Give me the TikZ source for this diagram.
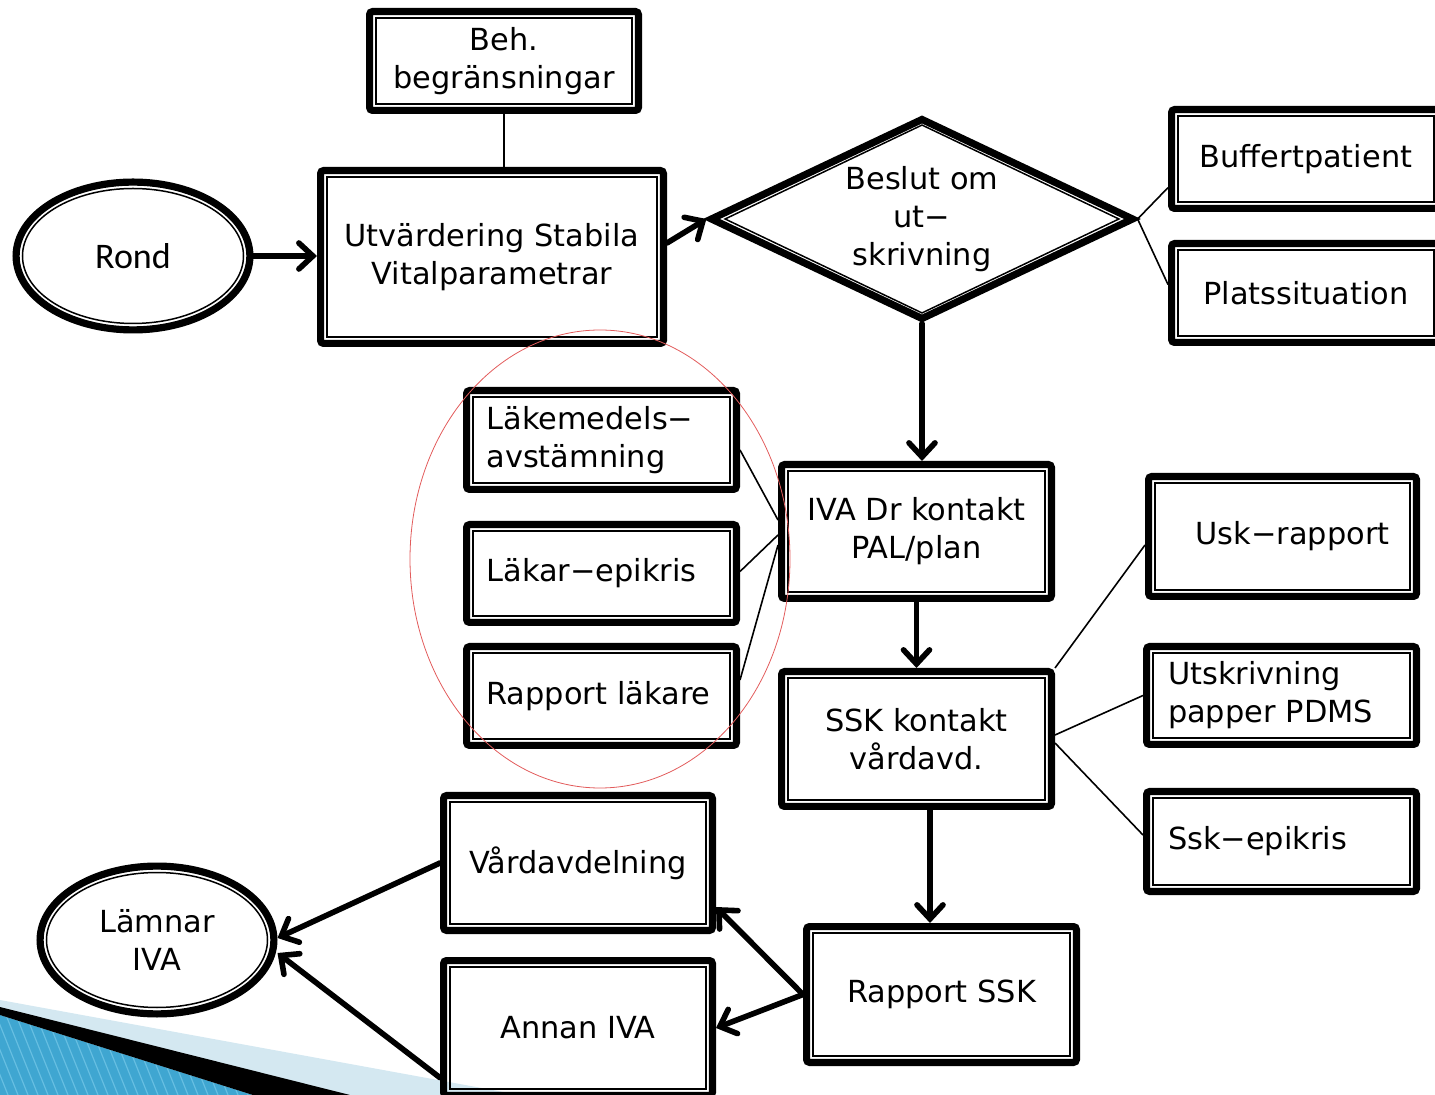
\documentclass[tikz,border=0pt]{standalone}
\usepackage{fontspec}
\setmainfont{DejaVu Sans}
\newfontfamily\ovalfont{Carlito}
\usetikzlibrary{shapes.geometric,arrows.meta,calc}

\definecolor{stripeblue}{HTML}{3FA6D1}
\definecolor{stripelight}{HTML}{67BFE2}
\definecolor{paleblue}{HTML}{D4E8F1}
\definecolor{ringred}{HTML}{E25C5C}

\begin{document}
\begin{tikzpicture}[x=0.5pt,y=-0.5pt,
  box/.style={draw, line width=3.6pt, outer sep=1.8pt, inner sep=0pt, align=center,
    font=\fontsize{15.2pt}{19pt}\selectfont},
  rbox/.style={box, rectangle, rounded corners=1.5pt},
  lbox/.style={rbox, align=left},
  oval/.style={box, ellipse, minimum width=116.9pt, minimum height=73.9pt},
  inner/.style={line width=0.75pt},
  link/.style={line width=0.8pt},
  flow/.style={line width=2.8pt, line cap=round,
    -{Straight Barb[length=7pt,width=13pt,line cap=round]}}
]
\useasboundingbox (0,0) rectangle (1435,1095);
\clip (0,0) rectangle (1435,1095);

% slide corner ornament
\fill[paleblue] (0,1000) -- (520,1095) -- (0,1095) -- cycle;
\begin{scope}
  \clip (0,1015) -- (253,1095) -- (0,1095) -- cycle;
  \fill[stripeblue] (0,1000) rectangle (260,1095);
  \foreach \s in {-60,-50,...,260}
    \draw[stripelight, line width=0.6pt] (\s,1000) -- (\s+40,1100);
\end{scope}
\fill[black] (0,1007) -- (350,1095) -- (253,1095) -- (0,1015) -- cycle;

% nodes
\node[oval, font=\ovalfont\fontsize{18pt}{22pt}\selectfont] (rond) at (133,256) {Rond};
\node[rbox, minimum width=134.4pt, minimum height=49.4pt] (beh) at (504,61) {Beh.\\begränsningar};
\node[rbox, minimum width=171.4pt, minimum height=86.4pt] (utv) at (492,257) {Utvärdering Stabila\\Vitalparametrar};
\node[box, diamond, aspect=2.15, minimum width=212pt, minimum height=101pt] (dia) at (922,219) {Beslut om\\ut−\\skrivning};
\node[rbox, minimum width=134.4pt, minimum height=49.4pt] (buff) at (1306,159) {Buffertpatient};
\node[rbox, minimum width=134.4pt, minimum height=49.4pt] (plats) at (1306,293) {Platssituation};

\node[lbox, minimum width=134.9pt, minimum height=49.4pt, text width=115pt] (lak1) at (601.5,440) {Läkemedels−\\avstämning};
\node[lbox, minimum width=134.9pt, minimum height=48.9pt, text width=115pt] (lak2) at (601.5,573.5) {Läkar−epikris};
\node[lbox, minimum width=134.9pt, minimum height=49.4pt, text width=115pt] (lak3) at (601.5,696) {Rapport läkare};

\node[rbox, minimum width=134.9pt, minimum height=66.9pt] (iva) at (916.5,531.5) {IVA Dr kontakt\\PAL/plan};
\node[rbox, minimum width=134.9pt, minimum height=67.4pt] (ssk) at (916.5,739) {SSK kontakt\\vårdavd.};

\node[rbox, minimum width=133.9pt, minimum height=59.9pt] (usk) at (1282.5,536.5) {\hspace*{10pt}Usk−rapport};
\node[lbox, minimum width=134.9pt, minimum height=48.9pt, text width=113.5pt] (utskr) at (1281.5,695.5) {Utskrivning\\papper PDMS};
\node[lbox, minimum width=134.9pt, minimum height=49.9pt, text width=113.5pt] (sskepi) at (1281.5,841.5) {Ssk−epikris};

\node[rbox, minimum width=134.9pt, minimum height=67.9pt] (rapssk) at (941.5,994.5) {Rapport SSK};
\node[rbox, minimum width=134.4pt, minimum height=67.4pt] (vard) at (578,863) {Vårdavdelning};
\node[rbox, minimum width=134.4pt, minimum height=67.4pt] (annan) at (578,1028) {Annan IVA};
\node[oval] (lamnar) at (157,940) {Lämnar\\IVA};

% inner contours of the double borders
\foreach \n in {beh,utv,buff,plats,lak1,lak2,lak3,iva,ssk,usk,utskr,sskepi,rapssk,vard,annan}
  \draw[inner] ([shift={(5pt,5pt)}]\n.south west) rectangle ([shift={(-5pt,-5pt)}]\n.north east);
\foreach \n in {rond,lamnar}
  \draw[inner] (\n.center) ellipse [x radius=55.25pt, y radius=33.75pt];
\draw[inner] ([xshift=-98.46pt]dia.center) -- ([yshift=46.97pt]dia.center)
  -- ([xshift=98.46pt]dia.center) -- ([yshift=-46.97pt]dia.center) -- cycle;

% flow arrows
\draw[flow] (rond.east) -- (rond.east -| utv.west);
\draw[flow] ([yshift=7pt]utv.east) -- (dia.west);
\draw[flow] (dia.south) -- (dia.south |- iva.north);
\draw[flow] (iva.south) -- (ssk.north);
\draw[flow] ([xshift=6.75pt]ssk.south) -- ([xshift=6.75pt]ssk.south |- rapssk.north);
\draw[flow] (rapssk.west) -- ($(vard.south east)!0.19!(vard.north east)$);
\draw[flow] (rapssk.west) -- (annan.east);
\draw[flow] (vard.west) -- ([yshift=1pt]lamnar.east);
\draw[flow] ($(annan.north west)!0.85!(annan.south west)$) -- ([yshift=-6.5pt]lamnar.east);

% plain links
\draw[link] (beh.south) -- (beh.south |- utv.north);
\draw[link] (dia.east) -- ($(buff.south west)!0.23!(buff.north west)$);
\draw[link] (dia.east) -- ($(plats.north west)!0.42!(plats.south west)$);
\draw[link] ([yshift=-5pt]lak1.east) -- ([yshift=5.75pt]iva.west);
\draw[link] ([yshift=1pt]lak2.east) -- ([yshift=-1.75pt]iva.west);
\draw[link] ([yshift=8pt]lak3.east) -- ([yshift=-6.75pt]iva.west);
\draw[link] (ssk.north east) -- ([yshift=-4.25pt]usk.west);
\draw[link] ([yshift=2pt]ssk.east) -- (utskr.west);
\draw[link] ([yshift=-2pt]ssk.east) -- ([yshift=3.25pt]sskepi.west);

% highlight ring round the physician tasks
\draw[ringred, line width=0.4pt] (600,559) ellipse [x radius=95pt, y radius=114.5pt];
\end{tikzpicture}
\end{document}
